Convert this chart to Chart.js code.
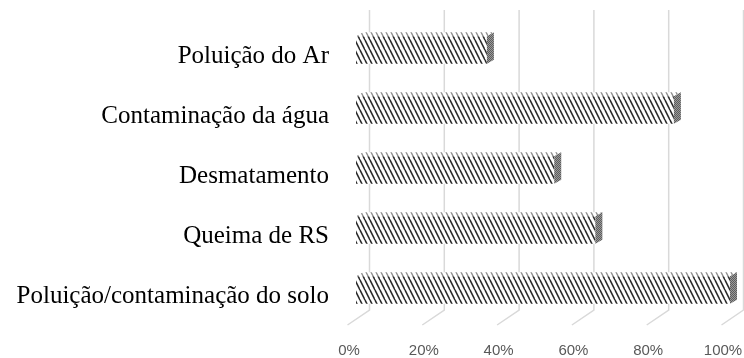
<!DOCTYPE html>
<html>
<head>
<meta charset="utf-8">
<script src="https://cdn.jsdelivr.net/npm/chart.js@4"></script>
<style>
  body { margin: 0; background: #fff; }
  #wrap { width: 744px; height: 358px; position: relative; }
</style>
</head>
<body>
<div id="wrap"><canvas id="chart"></canvas></div>
<script>
// categories and values (percent of answers)
const categories = [
    "Poluição do Ar",
    "Contaminação da água",
    "Desmatamento",
    "Queima de RS",
    "Poluição/contaminação do solo"
];
const values = [35, 85, 53, 64, 100];
const tickValues = [0, 20, 40, 60, 80, 100];

// depth of the 3D look
const DEPTH_X = 7, DEPTH_Y = 4;      // bar side/top faces
const WALL_X = 13.5;                  // back wall offset of gridlines
const FLOOR_DX = -22, FLOOR_DY = 15;  // floor lines

// hatch pattern for bar fronts (downward diagonal)
function makeHatch(color, bg, lw) {
    const c = document.createElement("canvas");
    c.width = 5; c.height = 10;
    const g = c.getContext("2d");
    g.fillStyle = bg;
    g.fillRect(0, 0, 5, 10);
    g.strokeStyle = color;
    g.lineWidth = lw;
    for (let k = -1; k <= 1; k++) {
        g.beginPath();
        g.moveTo(k * 5, 0);
        g.lineTo(k * 5 + 5, 10);
        g.stroke();
    }
    return g.createPattern(c, "repeat");
}

function makeSide() {
    const c = document.createElement("canvas");
    c.width = 2; c.height = 2;
    const g = c.getContext("2d");
    g.fillStyle = "#9a9a9a"; g.fillRect(0, 0, 2, 2);
    g.fillStyle = "#5c5c5c"; g.fillRect(0, 0, 1, 1); g.fillRect(1, 1, 1, 1);
    return g.createPattern(c, "repeat");
}

const frontFill = makeHatch("#2a2a2a", "#ffffff", 1.6);
const topFill = makeHatch("#8c8c8c", "#ffffff", 1.3);
const sideFill = makeSide();

// keep tick label overhang from shrinking the plot area
function noPadding(scale) {
    scale.paddingTop = 0;
    scale.paddingBottom = 0;
    scale.paddingLeft = 0;
    scale.paddingRight = 0;
}

// back wall gridlines and floor lines
const wallGrid = {
    id: "wallGrid",
    beforeDatasetsDraw(chart) {
        const ctx = chart.ctx, x = chart.scales.x;
        const top = 10, bottom = chart.chartArea.bottom - 10;
        ctx.save();
        ctx.strokeStyle = "#d9d9d9";
        ctx.lineWidth = 1.5;
        tickValues.forEach((v) => {
            const px = x.getPixelForValue(v) + WALL_X;
            ctx.beginPath();
            ctx.moveTo(px, top);
            ctx.lineTo(px, bottom);
            ctx.lineTo(px + FLOOR_DX, bottom + FLOOR_DY);
            ctx.stroke();
        });
        ctx.restore();
    }
};

// top and side faces of each bar
const barFaces = {
    id: "barFaces",
    afterDatasetsDraw(chart) {
        const ctx = chart.ctx;
        chart.getDatasetMeta(0).data.forEach((bar) => {
            const p = bar.getProps(["x", "y", "base", "height"], true);
            const t = p.y - p.height / 2, b = p.y + p.height / 2;
            ctx.save();
            ctx.fillStyle = topFill;
            ctx.beginPath();
            ctx.moveTo(p.base, t);
            ctx.lineTo(p.base + DEPTH_X, t - DEPTH_Y);
            ctx.lineTo(p.x + DEPTH_X, t - DEPTH_Y);
            ctx.lineTo(p.x, t);
            ctx.closePath();
            ctx.fill();
            ctx.fillStyle = sideFill;
            ctx.beginPath();
            ctx.moveTo(p.x, t);
            ctx.lineTo(p.x + DEPTH_X, t - DEPTH_Y);
            ctx.lineTo(p.x + DEPTH_X, b - DEPTH_Y);
            ctx.lineTo(p.x, b);
            ctx.closePath();
            ctx.fill();
            ctx.restore();
        });
    }
};

new Chart(document.getElementById("chart"), {
    type: "bar",
    data: {
        labels: categories,
        datasets: [{
            data: values,
            backgroundColor: frontFill,
            borderWidth: 0,
            categoryPercentage: 1,
            barPercentage: 0.46
        }]
    },
    options: {
        indexAxis: "y",
        responsive: true,
        maintainAspectRatio: false,
        animation: false,
        layout: { padding: { top: 20, right: 14, bottom: 0, left: 0 } },
        plugins: { legend: { display: false }, tooltip: { enabled: false } },
        scales: {
            x: {
                min: 0,
                max: 100,
                afterBuildTicks(scale) {
                    scale.ticks = tickValues.map((v) => ({ value: v }));
                },
                afterFit(scale) {
                    scale.height = 38;
                    noPadding(scale);
                },
                grid: { display: false, drawTicks: false },
                border: { display: false },
                ticks: {
                    padding: 22,
                    labelOffset: -7,
                    color: "#595959",
                    font: { family: "Liberation Sans", size: 15 },
                    callback: (v) => v + "%"
                }
            },
            y: {
                afterFit(scale) {
                    scale.width = 356;
                    noPadding(scale);
                },
                grid: { display: false, drawTicks: false },
                border: { display: false },
                ticks: {
                    padding: 27,
                    labelOffset: 6,
                    color: "#000",
                    font: { family: "Liberation Serif", size: 25 }
                }
            }
        }
    },
    plugins: [wallGrid, barFaces]
});
</script>
</body>
</html>
